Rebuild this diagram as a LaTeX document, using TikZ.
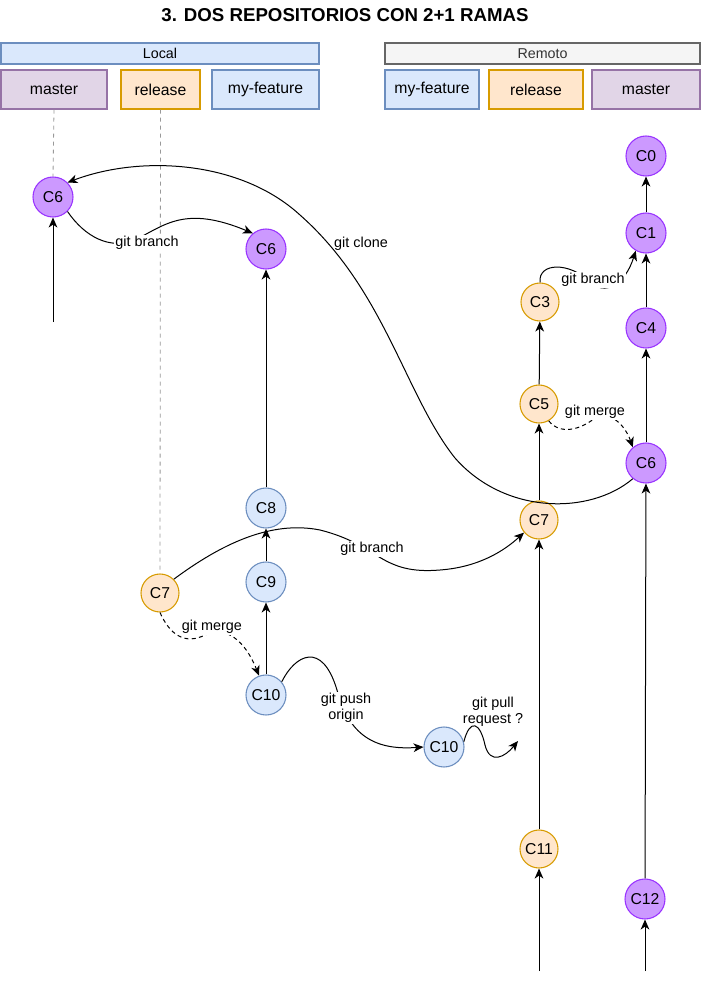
\documentclass[tikz,border=0pt]{standalone}
\usepackage{fontspec}
\setmainfont{Liberation Sans}
\usetikzlibrary{arrows.meta}
\definecolor{purpF}{HTML}{CC99FF}
\definecolor{purpD}{HTML}{9933FF}
\definecolor{orF}{HTML}{FFE6CC}
\definecolor{orD}{HTML}{D79B00}
\definecolor{blF}{HTML}{DAE8FC}
\definecolor{blD}{HTML}{6C8EBF}
\definecolor{viF}{HTML}{E1D5E7}
\definecolor{viD}{HTML}{9673A6}
\definecolor{grF}{HTML}{F5F5F5}
\definecolor{grD}{HTML}{666666}
\definecolor{grT}{HTML}{333333}
\begin{document}
\begin{tikzpicture}[x=0.75pt,y=-0.75pt,
  every node/.style={inner sep=0pt},
  bar/.style={draw, line width=0.9pt, minimum height=15.75pt, font=\fontsize{10.7pt}{12pt}\selectfont},
  brbox/.style={draw, line width=0.9pt, minimum height=29.25pt, font=\fontsize{11.8pt}{13pt}\selectfont},
  cpurp/.style={circle, draw=purpD, fill=purpF, line width=0.8pt, minimum size=30pt, font=\fontsize{11.8pt}{13pt}\selectfont},
  corg/.style={circle, draw=orD, fill=orF, line width=0.8pt, minimum size=28.5pt, font=\fontsize{11.8pt}{13pt}\selectfont},
  cblue/.style={circle, draw=blD, fill=blF, line width=0.8pt, minimum size=30pt, font=\fontsize{11.8pt}{13pt}\selectfont},
  arr/.style={line width=0.75pt, -{Stealth[length=7.5pt,width=6.5pt,inset=2.2pt]}},
  darr/.style={arr, dash pattern=on 3pt off 2.5pt},
  guide/.style={draw=gray!80, line width=0.6pt, dash pattern=on 3pt off 3pt},
  lbl/.style={fill=white, inner sep=1pt, font=\fontsize{10.8pt}{12pt}\selectfont, align=center}
]
\useasboundingbox (0,0) rectangle (701,984);
\fill[white] (0,0) rectangle (701,984);

% title
\node[font=\fontsize{14pt}{16pt}\selectfont\bfseries] (title) at (345,15) {3. DOS REPOSITORIOS CON 2+1 RAMAS};

% local header
\node[bar, draw=blD, fill=blF, minimum width=238.5pt] (local) at (160,53.5) {Local};
\node[brbox, draw=viD, fill=viF, minimum width=79.5pt] (lmaster) at (54,89.5) {master};
\node[brbox, draw=orD, fill=orF, minimum width=59.25pt] (lrelease) at (160.5,89.5) {release};
\node[brbox, draw=blD, fill=blF, minimum width=80.25pt] (lfeature) at (265.5,89.5) {my-feature};

% remote header
\node[bar, draw=grD, fill=grF, text=grT, minimum width=236.25pt] (remote) at (542.5,53.5) {Remoto};
\node[brbox, draw=blD, fill=blF, minimum width=70.5pt] (rfeature) at (432,89.5) {my-feature};
\node[brbox, draw=orD, fill=orF, minimum width=70.5pt] (rrelease) at (536,89.5) {release};
\node[brbox, draw=viD, fill=viF, minimum width=81pt] (rmaster) at (646,89.5) {master};

% local commits
\node[cpurp] (lc6) at (53,197) {C6};
\node[cpurp] (fc6) at (266,249) {C6};
\node[cblue] (c8) at (266,508) {C8};
\node[cblue] (c9) at (266,582) {C9};
\node[cblue] (c10) at (266,695) {C10};
\node[corg] (lc7) at (160,593) {C7};
\node[cblue] (rc10) at (444,747) {C10};

% remote commits
\node[cpurp] (c0) at (646,156) {C0};
\node[cpurp] (c1) at (646,233) {C1};
\node[cpurp] (c4) at (646,328) {C4};
\node[cpurp] (rc6) at (646,463) {C6};
\node[cpurp] (c12) at (645,899) {C12};
\node[corg] (c3) at (540,302) {C3};
\node[corg] (c5) at (539,404) {C5};
\node[corg] (rc7) at (539,520) {C7};
\node[corg] (c11) at (539,849) {C11};

\coordinate (lbot) at (53,322);
\coordinate (rbot1) at (539,971);
\coordinate (rbot2) at (645,971);

% guides
\draw[guide] (lmaster.south) -- (lc6.north);
\draw[guide] (lrelease.south) -- (lc7.north);

% straight arrows
\draw[arr] (lbot) -- (lc6);
\draw[arr] (c8) -- (fc6);
\draw[arr] (c9) -- (c8);
\draw[arr] (c10) -- (c9);
\draw[arr] (rbot1) -- (c11);
\draw[arr] (c11) -- (rc7);
\draw[arr] (rc7) -- (c5);
\draw[arr] (c5) -- (c3);
\draw[arr] (rbot2) -- (c12);
\draw[arr] (c12) -- (rc6);
\draw[arr] (rc6) -- (c4);
\draw[arr] (c4) -- (c1);
\draw[arr] (c1) -- (c0);

% git clone
\draw[arr] (rc6.-130) .. controls (590,515) and (505,515) .. (455,458)
  .. controls (405,395) and (385,290) .. (300,215)
  .. controls (240,160) and (140,155) .. (lc6.45);
\node[font=\fontsize{10.8pt}{12pt}\selectfont] (lclone) at (361,244) {git clone};

% local git branch
\draw[arr] (lc6.-45) .. controls (85,237) and (110,250) .. (135,240)
  .. controls (165,225) and (185,205) .. (fc6.130);
\node[lbl] (lbr1) at (147,243) {git branch};

% remote git branch C3 -> C1
\draw[arr] (c3.north) .. controls (538,262) and (570,262) .. (590,282)
  .. controls (605,296) and (625,285) .. (c1.-120);
\node[lbl] (lbr2) at (593,280) {git branch};

% remote git merge C5 -> C6
\draw[darr] (c5.-60) .. controls (560,435) and (580,430) .. (595,418)
  .. controls (610,410) and (625,425) .. (rc6.130);
\node[lbl] (lmg2) at (595,412) {git merge};

% local git merge C7 -> C10
\draw[darr] (lc7.south) .. controls (170,635) and (185,645) .. (205,635)
  .. controls (225,625) and (245,640) .. (c10.110);
\node[lbl] (lmg1) at (212,627) {git merge};

% git branch C7 local -> C7 remote
\draw[arr] (lc7.45) .. controls (220,545) and (270,520) .. (320,530)
  .. controls (380,545) and (380,575) .. (440,570)
  .. controls (480,567) and (505,550) .. (rc7.-140);
\node[lbl] (lbr3) at (372,549) {git branch};

% git push origin
\draw[arr] (c10.40) .. controls (295,655) and (322,640) .. (337,690)
  .. controls (350,740) and (380,750) .. (rc10.west);
\node[lbl] (lpush) at (346,708) {git push\\origin};

% git pull request
\coordinate (pullend) at (518,741);
\draw[arr] (rc10.15) .. controls (470,718) and (480,722) .. (485,745)
  .. controls (490,765) and (505,757) .. (pullend);
\node[font=\fontsize{10.8pt}{12pt}\selectfont, align=center] (lpull) at (493,712) {git pull\\request ?};
\end{tikzpicture}
\end{document}
